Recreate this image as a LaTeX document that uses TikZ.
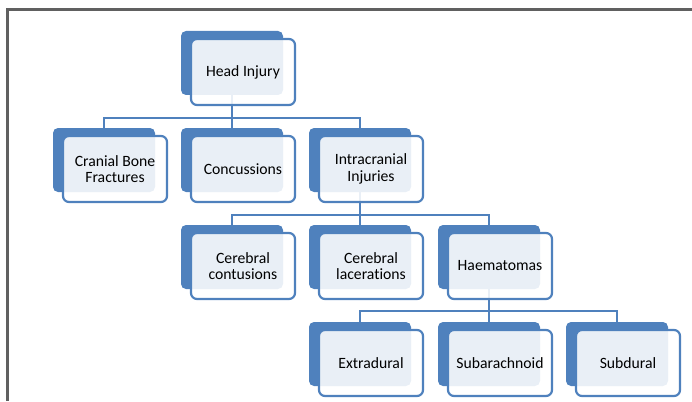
\documentclass[tikz,border=0pt]{standalone}
\usepackage{fontspec}
\setmainfont{Carlito}[Ligatures={NoCommon}]
\definecolor{smartblue}{RGB}{79, 129, 189}
\definecolor{framegray}{RGB}{96, 96, 96}
\tikzset{
    back/.style={fill=smartblue, rounded corners=5pt, minimum width=102pt, minimum height=64pt, inner sep=0pt},
    front/.style={draw=smartblue, line width=2.2pt, fill=white, fill opacity=0.88, text opacity=1,
        rounded corners=6pt, minimum width=104pt, minimum height=66pt, inner sep=0pt,
        align=center, text=black, font=\fontsize{15.7}{16.5}\selectfont},
    link/.style={draw=smartblue, line width=2pt}
}

\begin{document}
\begin{tikzpicture}[x=1pt, y=-1pt]
            \useasboundingbox (0,0) rectangle (692,401);
            \pgfmathsetmacro{\firstCol}{104}
            \pgfmathsetmacro{\secondCol}{232}
            \pgfmathsetmacro{\thirdCol}{360}
            \pgfmathsetmacro{\fourthCol}{489}
            \pgfmathsetmacro{\fifthCol}{617}
            \pgfmathsetmacro{\firstRow}{63}
            \pgfmathsetmacro{\secondRow}{160}
            \pgfmathsetmacro{\thirdRow}{257}
            \pgfmathsetmacro{\fourthRow}{354}

            % outer frame
            \draw[framegray, line width=2.2pt] (7.5, 401) -- (7.5, 9.5) -- (692, 9.5);

            % blue back plates
            \node[back] (head-b) at (\secondCol, \firstRow) {};
            \node[back] (cranial-b) at (\firstCol, \secondRow) {};
            \node[back] (concussions-b) at (\secondCol, \secondRow) {};
            \node[back] (intra-b) at (\thirdCol, \secondRow) {};
            \node[back] (contusions-b) at (\secondCol, \thirdRow) {};
            \node[back] (lacerations-b) at (\thirdCol, \thirdRow) {};
            \node[back] (haematomas-b) at (\fourthCol, \thirdRow) {};
            \node[back] (extradural-b) at (\thirdCol, \fourthRow) {};
            \node[back] (subarachnoid-b) at (\fourthCol, \fourthRow) {};
            \node[back] (subdural-b) at (\fifthCol, \fourthRow) {};

            % levels of the horizontal bus lines
            \coordinate (bus1) at (0, 118);
            \coordinate (bus2) at (0, 215);
            \coordinate (bus3) at (0, 311);

            % connect parents to children
            \foreach \c in {cranial, concussions, intra}
            \draw[link] (head-b.south) |- (\c-b.north |- bus1) -- (\c-b.north);
            \foreach \c in {contusions, lacerations, haematomas}
            \draw[link] (intra-b.south) |- (\c-b.north |- bus2) -- (\c-b.north);
            \foreach \c in {extradural, subarachnoid, subdural}
            \draw[link] (haematomas-b.south) |- (\c-b.north |- bus3) -- (\c-b.north);

            % front cards with the labels
            \node[front] (head) at (\secondCol+11, \firstRow+9) {Head Injury};
            \node[front] (cranial) at (\firstCol+11, \secondRow+9) {Cranial Bone\\Fractures};
            \node[front] (concussions) at (\secondCol+11, \secondRow+9) {Concussions};
            \node[front] (intra) at (\thirdCol+11, \secondRow+9) {Intracranial\\Injuries};
            \node[front] (contusions) at (\secondCol+11, \thirdRow+9) {Cerebral\\contusions};
            \node[front] (lacerations) at (\thirdCol+11, \thirdRow+9) {Cerebral\\lacerations};
            \node[front] (haematomas) at (\fourthCol+11, \thirdRow+9) {Haematomas};
            \node[front] (extradural) at (\thirdCol+11, \fourthRow+9) {Extradural};
            \node[front] (subarachnoid) at (\fourthCol+11, \fourthRow+9) {Subarachnoid};
            \node[front] (subdural) at (\fifthCol+11, \fourthRow+9) {Subdural};

\end{tikzpicture}
\end{document}
